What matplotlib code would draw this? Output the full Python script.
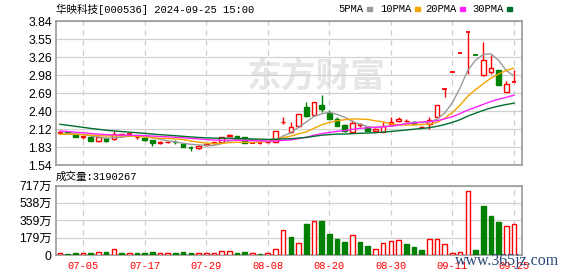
import numpy as np
import matplotlib.pyplot as plt

# daily bars 2024-07-02 .. 2024-09-25 (price in yuan, volume in 万)
dates = ['07-02', '07-03', '07-04', '07-05', '07-08', '07-09', '07-10', '07-11', '07-12', '07-15',
         '07-16', '07-17', '07-18', '07-19', '07-22', '07-23', '07-24', '07-25', '07-26', '07-29',
         '07-30', '07-31', '08-01', '08-02', '08-05', '08-06', '08-07', '08-08', '08-09', '08-12',
         '08-13', '08-14', '08-15', '08-16', '08-19', '08-20', '08-21', '08-22', '08-23', '08-26',
         '08-27', '08-28', '08-29', '08-30', '09-02', '09-03', '09-04', '09-05', '09-06', '09-09',
         '09-10', '09-11', '09-12', '09-13', '09-18', '09-19', '09-20', '09-23', '09-24', '09-25']
opens = [2.05, 2.06, 2.04, 1.99, 1.99, 1.93, 1.97, 1.95, 2.02, 2.03,
         1.98, 1.97, 1.94, 1.89, 1.90, 1.915, 1.88, 1.815, 1.81, 1.86,
         1.89, 1.90, 2.01, 2.00, 1.98, 1.895, 1.89, 1.90, 1.91, 2.22,
         2.06, 2.17, 2.46, 2.34, 2.50, 2.37, 2.27, 2.18, 2.07, 2.18,
         2.15, 2.09, 2.07, 2.19, 2.24, 2.24, 2.23, 2.14, 2.20, 2.30,
         2.75, 3.03, 3.33, 3.66, 3.29, 2.97, 3.03, 3.05, 2.70, 2.86]
highs = [2.08, 2.08, 2.04, 2.01, 2.00, 1.99, 1.97, 2.08, 2.04, 2.04,
         2.00, 1.97, 1.94, 1.92, 1.92, 1.94, 1.88, 1.85, 1.86, 1.88,
         1.90, 1.98, 2.04, 2.00, 1.98, 1.91, 1.90, 1.91, 2.09, 2.30,
         2.23, 2.35, 2.54, 2.55, 2.66, 2.42, 2.31, 2.19, 2.26, 2.21,
         2.17, 2.13, 2.23, 2.30, 2.30, 2.28, 2.24, 2.16, 2.31, 2.50,
         2.75, 3.03, 3.33, 3.66, 3.29, 3.51, 3.29, 3.05, 2.88, 3.05]
lows = [2.04, 2.04, 1.98, 1.96, 1.93, 1.91, 1.91, 1.94, 2.01, 2.01,
        1.95, 1.93, 1.84, 1.88, 1.89, 1.88, 1.83, 1.77, 1.80, 1.85,
        1.88, 1.90, 2.00, 1.95, 1.89, 1.89, 1.88, 1.89, 1.91, 2.19,
        2.05, 2.15, 2.31, 2.33, 2.39, 2.27, 2.16, 2.07, 2.06, 2.15,
        2.08, 2.08, 2.06, 2.18, 2.23, 2.22, 2.19, 2.13, 2.11, 2.29,
        2.62, 3.03, 3.33, 3.00, 3.29, 2.96, 2.99, 2.81, 2.70, 2.86]
closes = [2.06, 2.05, 1.99, 2.00, 1.93, 1.98, 1.93, 2.04, 2.03, 2.03,
          1.99, 1.94, 1.89, 1.90, 1.91, 1.905, 1.83, 1.81, 1.85, 1.87,
          1.90, 1.98, 2.02, 1.96, 1.89, 1.90, 1.895, 1.91, 2.09, 2.23,
          2.14, 2.35, 2.32, 2.54, 2.43, 2.28, 2.17, 2.09, 2.21, 2.20,
          2.09, 2.12, 2.16, 2.22, 2.27, 2.25, 2.20, 2.15, 2.26, 2.50,
          2.75, 3.03, 3.33, 3.66, 3.29, 3.21, 3.09, 2.81, 2.84, 2.86]
volumes = [24, 10, 21, 21, 21, 31, 31, 59, 21, 21,
           21, 21, 31, 21, 21, 21, 31, 21, 21, 21,
           21, 38, 38, 21, 31, 21, 10, 21, 59, 255,
           186, 124, 324, 348, 352, 217, 166, 138, 207, 138,
           93, 59, 124, 145, 155, 114, 86, 55, 162, 162,
           114, 21, 31, 659, 52, 507, 404, 342, 297, 319.0267]
# closes before 07-02, estimated so the moving averages start where the chart shows them
prev_closes = [2.52, 2.50, 2.47, 2.44, 2.41, 2.38, 2.36, 2.34, 2.31, 2.27,
               2.24, 2.22, 2.19, 2.17, 2.15, 2.13, 2.11, 2.09, 2.07, 2.03,
               2.01, 2.04, 2.05, 2.02, 2.03, 2.00, 2.01, 2.03, 2.05]

price_ticks = ['1.54', '1.83', '2.12', '2.40', '2.69', '2.98', '3.26', '3.55', '3.84']
vol_ticks = ['0', '179万', '359万', '538万', '717万']

RED = '#ff0000'
GREEN = '#008000'
ma_colors = {5: '#9a9a9a', 10: '#f2a400', 20: '#ff22ff', 30: '#006e2e'}

o = np.array(opens); h = np.array(highs); l = np.array(lows); c = np.array(closes)
v = np.array(volumes)
x = np.arange(len(c))
allc = np.concatenate([prev_closes, c])
before = np.concatenate([[prev_closes[-1]], c[:-1]])
vol_up = c >= before
up = np.where(c == o, vol_up, c > o)

mono = ['Liberation Mono', 'Noto Sans CJK SC']

fig = plt.figure(figsize=(5.78, 2.76), dpi=100)
W, H = 578, 276
ax = fig.add_axes([56 / W, 1 - 165 / H, 466 / W, 144 / H])
axv = fig.add_axes([56 / W, 1 - 255 / H, 466 / W, 69.5 / H])

xt = list(range(3, len(c), 8))
for a in (ax, axv):
    a.set_xlim(-0.52, len(c) + 0.04)
    a.set_xticks(xt)
    a.tick_params(length=0, pad=3)
    a.grid(axis='x', color='#cccccc', linestyle=(0, (4, 4)), linewidth=0.9)
    a.grid(axis='y', color='#d0d0d0', linestyle='-', linewidth=0.9)
    a.set_axisbelow(True)
    for s in a.spines.values():
        s.set_color('#999999')
        s.set_linewidth(1.2)
    for t in a.get_yticklabels():
        t.set_family('Liberation Sans')

# price panel
ax.set_ylim(1.54, 3.84)
ax.set_yticks(np.linspace(1.54, 3.84, 9))
ax.set_yticklabels(price_ticks, fontsize=8.8, family='Liberation Sans')
ax.set_xticklabels([])

ax.text(0.56, 0.62, '东方财富', transform=ax.transAxes, fontsize=25, fontweight='bold',
        color='#e6e6e6', ha='center', va='center', family='Noto Sans CJK SC', zorder=0)

w = 0.6
for i in x:
    col = RED if up[i] else GREEN
    lo, hi = min(o[i], c[i]), max(o[i], c[i])
    ax.vlines(i, l[i], lo, color=col, linewidth=1, zorder=3)
    ax.vlines(i, hi, h[i], color=col, linewidth=1, zorder=3)
    if hi - lo < 0.008:
        ax.hlines(o[i], i - w / 2, i + w / 2, color=col, linewidth=1.3, zorder=4)
    else:
        ax.bar(i, hi - lo, bottom=lo, width=w, facecolor='white' if up[i] else col,
               edgecolor=col, linewidth=1, zorder=4)

for n, col in ma_colors.items():
    ma = np.convolve(allc, np.ones(n) / n, mode='valid')[-len(c):]
    ax.plot(x, ma, color=col, linewidth=1.0, zorder=5)

# volume panel
axv.set_ylim(0, 717)
axv.set_yticks(np.linspace(0, 717, 5))
axv.set_yticklabels(vol_ticks, fontsize=8.8, family=['Liberation Sans', 'Noto Sans CJK SC'])
axv.set_xticklabels([dates[i] for i in xt], fontsize=7.5, family=mono, color=RED)
axv.tick_params(axis='x', pad=4)
for i in x:
    col = RED if vol_up[i] else GREEN
    axv.bar(i, v[i], width=w, facecolor='white' if vol_up[i] else col,
            edgecolor=col, linewidth=1, zorder=3)

# header texts
fig.text(56 / W, 1 - 9 / H, '华映科技[000536] 2024-09-25 15:00', fontsize=7.6,
         family=mono, va='center', ha='left')
fig.text(56 / W, 1 - 177 / H, '成交量:%d' % round(v[-1] * 10000), fontsize=7.6,
         family=mono, va='center', ha='left')
lx = [338, 380, 425, 472]
for (n, col), px in zip(ma_colors.items(), lx):
    t = fig.text(px / W, 1 - 9 / H, '%dPMA' % n, fontsize=7.6, family=mono,
                 va='center', ha='left')
    sx = px + (29 if n == 5 else 35)
    fig.patches.append(plt.Rectangle((sx / W, 1 - 10.5 / H), 5 / W, 3 / H,
                                     transform=fig.transFigure, color=col, figure=fig))

fig.text(455 / W, 1 - 261 / H, 'www.365jz.com', fontsize=11.5, family='Liberation Serif',
         color='#2a4878', va='center', ha='left')

fig.savefig('out.png', dpi=100)
